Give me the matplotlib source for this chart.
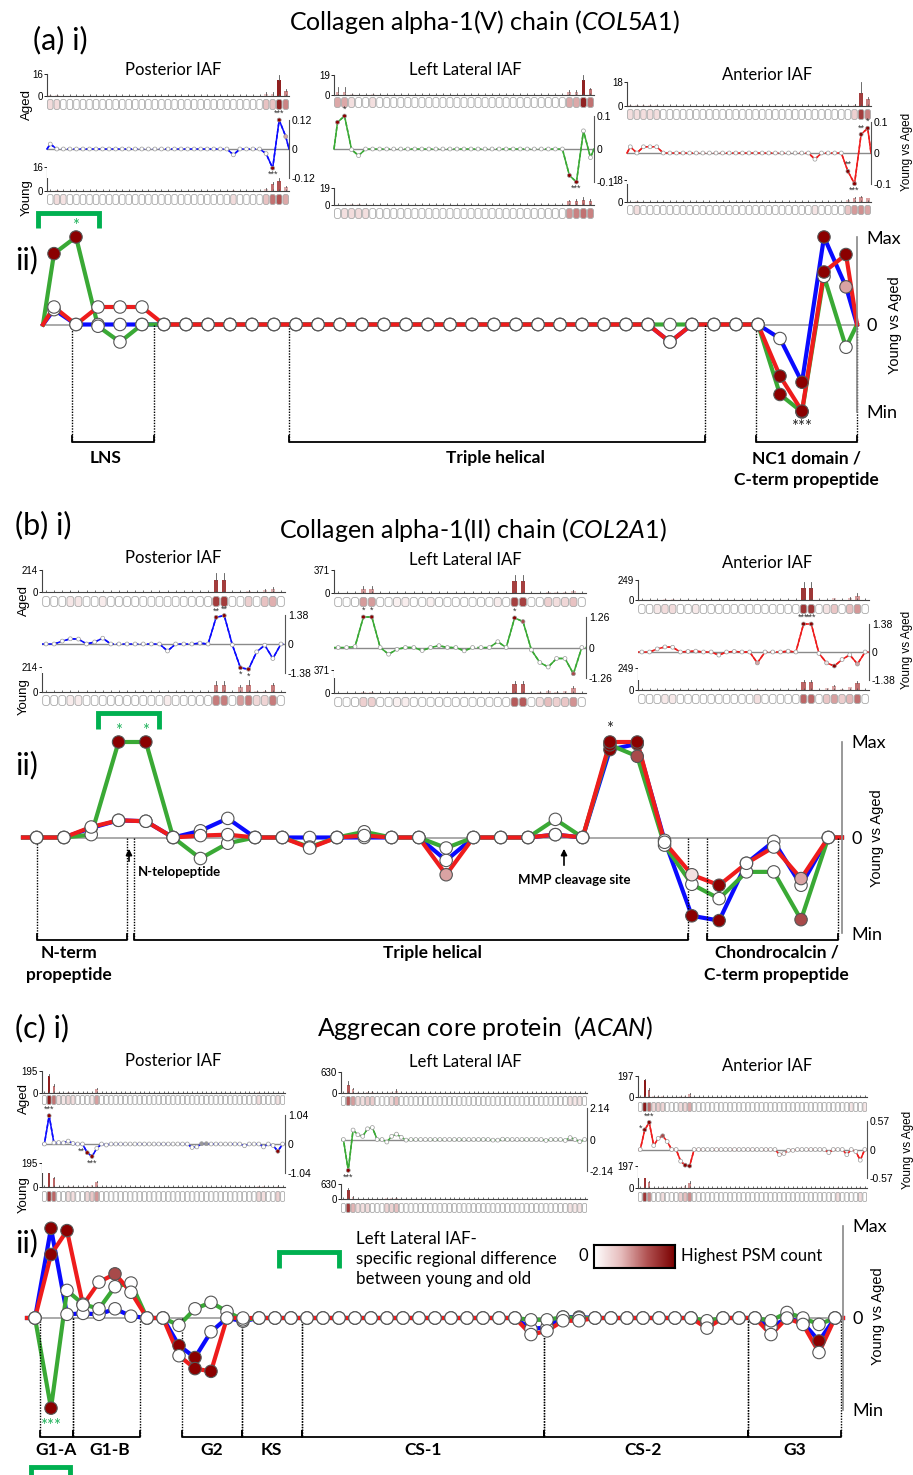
#!/usr/bin/env python3
import numpy as np
import matplotlib
matplotlib.use('Agg')
import matplotlib.pyplot as plt
import matplotlib.transforms as mtransforms
from matplotlib.colors import LinearSegmentedColormap
from matplotlib.patches import FancyBboxPatch, FancyArrowPatch
from matplotlib.lines import Line2D

# ---------------- data ----------------
regions = ['Posterior IAF', 'Left Lateral IAF', 'Anterior IAF']

# (a) COL5A1, 37 segments. normalised young-vs-aged difference (Max = 1, Min = -1)
blue_a = [0.17, 0, 0, 0, 0, 0, 0, 0, 0, 0,
          0, 0, 0, 0, 0, 0, 0, 0, 0, 0,
          0, 0, 0, 0, 0, 0, 0, 0, -0.2, 0,
          0, 0, 0, -0.16, -0.66, 1.0, 0.43]
green_a = [0.81, 1.0, -0.02, -0.2, 0, 0, 0, 0, 0, 0,
           0, 0, 0, 0, 0, 0, 0, 0, 0, 0,
           0, 0, 0, 0, 0, 0, 0, 0, 0, 0,
           0, 0, 0, -0.8, -1.0, 0.55, -0.26]
red_a = [0.2, 0, 0.2, 0.2, 0.2, 0, 0, 0, 0, 0,
         0, 0, 0, 0, 0, 0, 0, 0, 0, 0,
         0, 0, 0, 0, 0, 0, 0, 0, -0.2, 0,
         0, 0, 0, -0.59, -0.99, 0.6, 0.8]
marks_a = [{34: 'd', 35: 'd', 36: 'p'},
           {0: 'd', 1: 'd', 33: 'd', 34: 'd'},
           {33: 'd', 34: 'd', 35: 'd', 36: 'd'}]
diff_lim_a = [0.12, 0.1, 0.1]
bar_max_a = [16, 19, 18]
# {segment: (PSM count, error)}
aged_a = [{0: (0.5, 0), 1: (0.5, 0), 33: (1.5, 1.5), 34: (1.5, 1.5), 35: (12, 3.5), 36: (4, 1)},
          {0: (3, 5), 1: (3, 5), 2: (0.5, 0.5), 5: (0.5, 0.4), 33: (3, 2), 34: (3, 2), 35: (14, 5), 36: (6, 1)},
          {0: (0.5, 0.5), 1: (0.5, 0.5), 2: (0.5, 0.5), 3: (0.5, 0.5), 4: (0.5, 0.5), 34: (1, 0.5),
           35: (10, 8), 36: (5, 1.5)}]
young_a = [{1: (0.5, 0.5), 2: (0.3, 0), 28: (0.5, 0), 33: (1.5, 0.5), 34: (5, 1), 35: (7, 1.5), 36: (2.5, 0.8)},
           {1: (0.5, 0.5), 2: (0.6, 0.5), 3: (0.6, 0.5), 4: (0.5, 0.5), 33: (4, 2), 34: (5, 2), 35: (6, 3), 36: (5, 2)},
           {1: (0.5, 0.5), 28: (0.3, 0), 33: (1.5, 1), 34: (3.5, 1), 35: (4, 1), 36: (3, 0.5)}]
# side: 1 above, -1 below, 0 to the left
sig_a = [[(35, '***', 1), (34, '***', -1)],
         [(1, '*', 1), (34, '***', -1)],
         [(35, '**', 1), (36, '*', 1), (33, '**', 1), (34, '***', -1)]]
main_sig_a = [(1, 1.12, '*', 'g'), (34, -1.17, '***', 'k')]
# (label, start, end, label centre)
domains_a = [('LNS', 1.3, 5.05, 2.86), ('Triple helical', 11.2, 30.1, 20.55),
             ('NC1 domain /\nC-term propeptide', 32.4, 37, 34.7)]

# (b) COL2A1, 30 segments
blue_b = [0, 0, 0.1, 0.18, 0.17, 0, 0.07, 0.2, 0, 0,
          0, 0, 0, 0, 0, -0.24, 0, 0, 0, 0.03,
          0, 0.92, 0.98, -0.03, -0.82, -0.87, -0.27, -0.04, -0.5, 0]
green_b = [0, 0, 0.03, 1.0, 1.0, 0, -0.22, -0.06, 0, 0,
           -0.1, 0, 0.06, 0, 0, -0.11, 0, 0, 0, 0.19,
           0, 0.97, 0.85, -0.08, -0.49, -0.64, -0.36, -0.36, -0.86, 0]
red_b = [0, 0, 0.11, 0.18, 0.17, 0, 0.02, 0.03, 0, 0,
         -0.11, 0, 0.02, 0, 0, -0.39, 0, 0, 0, 0.03,
         0, 1.0, 1.0, -0.05, -0.39, -0.5, -0.27, -0.1, -0.43, 0]
marks_b = [{21: 'd', 22: 'd', 24: 'd', 25: 'd'},
           {3: 'd', 4: 'd', 21: 'd', 22: 'm', 28: 'm'},
           {15: 'p', 21: 'd', 22: 'd', 24: 'q', 25: 'd', 28: 'p'}]
diff_lim_b = [1.38, 1.26, 1.38]
bar_max_b = [214, 371, 249]
aged_b = [{3: (3, 2), 4: (3, 2), 7: (2, 0), 21: (120, 60), 22: (120, 60), 25: (12, 5), 27: (20, 10), 28: (30, 15)},
          {3: (70, 40), 4: (70, 40), 7: (2, 0), 8: (3, 0), 11: (2, 0), 19: (3, 0), 21: (200, 90), 22: (200, 90),
           25: (20, 10), 26: (10, 0), 27: (15, 8), 28: (35, 15)},
          {2: (3, 0), 3: (8, 3), 4: (8, 3), 7: (3, 0), 21: (150, 70), 22: (150, 70), 24: (5, 0), 25: (20, 10),
           27: (25, 15), 28: (50, 40)}]
young_b = [{3: (2, 0), 4: (2, 0), 15: (2, 0), 21: (60, 30), 22: (60, 30), 24: (40, 20), 25: (60, 40),
            26: (8, 0), 27: (10, 5), 28: (60, 15)},
           {3: (20, 10), 4: (20, 10), 7: (2, 0), 8: (3, 0), 21: (150, 50), 22: (150, 50), 24: (10, 0),
            25: (40, 10), 26: (20, 5), 27: (30, 8), 28: (80, 30)},
           {3: (3, 0), 4: (3, 0), 15: (6, 0), 21: (90, 20), 22: (90, 20), 24: (20, 0), 25: (45, 15),
            26: (15, 0), 27: (30, 0), 28: (80, 20)}]
sig_b = [[(21, '**', 1), (22, '**', 1), (24, '*', -1), (25, '*', -1)],
         [(3, '*', 1), (4, '*', 1), (21, '*', 1)],
         [(21, '***', 1), (22, '***', 1)]]
main_sig_b = [(3, 1.12, '*', 'g'), (4, 1.12, '*', 'g'), (21, 1.14, '*', 'k')]
domains_b = [('N-term\npropeptide', 0.51, 3.8, 1.68), ('Triple helical', 4.07, 24.36, 14.98),
             ('Chondrocalcin /\nC-term propeptide', 25.05, 29.85, 27.6)]

# (c) ACAN, 51 segments
blue_c = [0, 0.975, 0.04, 0.05, 0.04, 0.1, 0.02, 0, 0, -0.3,
          -0.43, -0.15, 0, -0.035, 0, 0, 0, 0, 0, 0,
          0, 0, 0, 0, 0, 0, 0, 0, 0, 0,
          0, -0.12, -0.1, 0.01, 0.01, 0, 0, 0, 0, 0,
          0, 0, -0.06, 0, 0, 0, -0.1, 0, -0.05, -0.25,
          0]
green_c = [0, -0.98, 0.3, 0.15, 0.1, 0.34, 0.38, 0, 0, -0.08,
           0.1, 0.17, 0.07, -0.02, 0, 0, 0, 0, 0, 0,
           0, 0, 0, 0, 0, 0, 0, 0, 0, 0,
           0, -0.02, -0.02, 0.01, 0, 0, 0, 0, 0, 0,
           0, 0, -0.03, 0, 0, 0, -0.03, 0.06, 0, -0.07,
           0]
red_c = [0, 0.69, 0.95, 0.14, 0.39, 0.48, 0.28, 0, 0, -0.41,
         -0.55, -0.58, 0, 0, 0, 0, 0, 0, 0, 0,
         0, 0, 0, 0, 0, 0, 0, 0, 0, 0,
         0, -0.18, -0.14, -0.03, -0.03, 0, 0, 0, 0, 0,
         0, 0, -0.11, 0, 0, 0, -0.18, 0, -0.07, -0.375,
         0]
marks_c = [{1: 'd', 9: 'd', 10: 'd', 33: 'g', 34: 'g', 49: 'd'},
           {1: 'd'},
           {1: 'd', 2: 'd', 5: 'm', 10: 'd', 11: 'd'}]
diff_lim_c = [1.04, 2.14, 0.57]
bar_max_c = [195, 630, 197]
aged_c = [{1: (150, 20), 2: (60, 20), 3: (5, 0), 4: (3, 0), 5: (8, 0), 6: (5, 0), 10: (3, 0), 11: (35, 10),
           45: (5, 0), 49: (4, 0)},
          {1: (250, 100), 2: (120, 40), 3: (20, 0), 4: (15, 0), 5: (40, 10), 6: (40, 10), 10: (20, 10),
           11: (70, 60), 47: (10, 0), 48: (8, 0), 49: (10, 0)},
          {1: (160, 10), 2: (70, 15), 3: (8, 0), 4: (12, 0), 5: (8, 0), 9: (5, 0), 10: (8, 0), 11: (30, 10),
           47: (3, 0), 50: (3, 0)}]
young_c = [{1: (110, 10), 2: (70, 10), 5: (5, 0), 6: (5, 0), 9: (8, 0), 10: (15, 0), 11: (40, 10),
            45: (8, 0), 46: (5, 0), 49: (10, 5)},
           {1: (380, 100), 2: (80, 30), 3: (20, 0), 4: (15, 0), 5: (20, 0), 9: (30, 0), 10: (30, 0),
            11: (60, 20), 47: (10, 0), 48: (8, 0), 49: (10, 0)},
           {1: (120, 20), 2: (50, 10), 5: (5, 0), 9: (10, 0), 10: (20, 10), 11: (45, 15), 44: (5, 0), 49: (5, 0)}]
sig_c = [[(1, '***', 1), (9, '**', 0), (10, '***', -1)],
         [(1, '***', -1)],
         [(1, '*', 0), (2, '***', 1)]]
main_sig_c = [(1, -1.17, '***', 'g')]
domains_c = [('G1-A', 0.81, 2.87, 1.84), ('G1-B', 2.87, 7.05, 5.19), ('G2', 9.68, 13.42, 11.55),
             ('KS', 13.42, 17.17, 15.3), ('CS-1', 17.17, 32.33, 24.75), ('CS-2', 32.33, 45.07, 38.5),
             ('G3', 45.07, 50.87, 48.0)]

# ---------------- style ----------------
W, H = 913, 1475
plt.rcParams['font.family'] = ['Lato', 'DejaVu Sans']
plt.rcParams['mathtext.fontset'] = 'custom'
plt.rcParams['mathtext.rm'] = 'Lato'
plt.rcParams['mathtext.it'] = 'Lato:italic'
ARIAL = ['Liberation Sans', 'DejaVu Sans']

LINE_COLS = ['#0a0aff', '#3aa935', '#ee1c1c']
BR_GREEN = '#00b050'
MARK = {'w': 'white', 'd': '#8b0000', 'm': '#a84a4a', 'p': '#d9a3a3', 'q': '#f3e2e2', 'g': '#9a9a9a'}
STAR = {'g': '#1fb25a', 'k': '#222222'}
psm_cmap = LinearSegmentedColormap.from_list('psm', ['#ffffff', '#e6bcbc', '#b05050', '#7a0000'])

fig = plt.figure(figsize=(W / 100, H / 100), dpi=100)


def rect(x0, y0, x1, y1):
    return [x0 / W, 1 - y1 / H, (x1 - x0) / W, (y1 - y0) / H]


def fy(y):
    return 1 - y / H


def ftext(x, y, s, **kw):
    fig.text(x / W, fy(y), s, **kw)


def green_bracket(x0, x1, ytop, ylegs):
    fig.add_artist(Line2D([x0 / W, x0 / W, x1 / W, x1 / W], [fy(ylegs), fy(ytop), fy(ytop), fy(ylegs)],
                          color=BR_GREEN, lw=3.5, solid_joinstyle='miter', solid_capstyle='butt'))


def draw_bars(x0, x1, ytop, yzero, ybt, ybb, n, counts, vmax):
    ax = fig.add_axes(rect(x0, ytop, x1, yzero))
    ax.set_xlim(0, n)
    ax.set_ylim(0, vmax)
    for k, (c, e) in counts.items():
        ax.bar(k + 0.5, c, width=0.55, color=psm_cmap(np.sqrt(c / vmax)), lw=0)
        if e:
            ax.plot([k + 0.5, k + 0.5], [c, c + e], color='#555555', lw=0.6)
    for s in ['top', 'right']:
        ax.spines[s].set_visible(False)
    for s in ['left', 'bottom']:
        ax.spines[s].set_color('#444444')
        ax.spines[s].set_linewidth(0.8)
    ax.set_xticks(np.arange(n) + 0.5)
    ax.tick_params(axis='x', direction='in', length=1.5, width=0.6, color='#555555', labelbottom=False)
    ax.set_yticks([0, vmax])
    ax.set_yticklabels(['0', str(vmax)], family=ARIAL)
    ax.tick_params(axis='y', length=2, width=0.6, labelsize=7, pad=1)

    bx = fig.add_axes(rect(x0, ybt, x1, ybb))
    bx.set_xlim(0, n)
    bx.set_ylim(0, 1)
    bx.axis('off')
    asp = ((x1 - x0) / n) / (ybb - ybt)
    for k in range(n):
        c = counts.get(k, (0, 0))[0]
        bx.add_patch(FancyBboxPatch((k + 0.08, 0.05), 0.84, 0.9, boxstyle='round,pad=0,rounding_size=0.3',
                                    mutation_aspect=asp, fc=psm_cmap(np.sqrt(c / vmax)),
                                    ec='#aaaaaa', lw=0.6))


def draw_diff(x0, x1, yt, yb, n, vals, mk, color, lim, sig):
    ax = fig.add_axes(rect(x0, yt, x1, yb))
    ax.set_xlim(0, n)
    ax.set_ylim(-lim, lim)
    ax.axhline(0, color='#8a8a8a', lw=1.0, zorder=1)
    xs = np.r_[0, np.arange(n) + 0.5, n]
    ys = np.r_[0, vals, 0] * lim
    nz = ys != 0
    keep = nz | np.r_[nz[1:], False] | np.r_[False, nz[:-1]]
    ax.plot(xs, ys, color=color, lw=1.1, ls=(0, (2.5, 1.5)), zorder=2, clip_on=False)
    ax.plot(xs, np.where(keep, ys, np.nan), color=color, lw=1.1, zorder=2, clip_on=False)
    fc = [MARK[mk.get(k, 'w')] for k in range(n)]
    ax.scatter(np.arange(n) + 0.5, np.array(vals) * lim, s=8, c=fc, edgecolors='#9a9a9a',
               linewidths=0.5, zorder=3, clip_on=False)
    for k, s, side in sig:
        if side == 0:
            off, ha, va = (-2, 1), 'right', 'center'
        else:
            off, ha, va = (0, 1.5 * side), 'center', ('bottom' if side > 0 else 'top')
        ax.annotate(s, (k + 0.5, vals[k] * lim), xytext=off, textcoords='offset points',
                    ha=ha, va=va, fontsize=6.5, color='#333333', family=ARIAL)
    for s in ['top', 'left', 'bottom']:
        ax.spines[s].set_visible(False)
    ax.spines['right'].set_color('#555555')
    ax.spines['right'].set_linewidth(0.8)
    ax.set_xticks([])
    ax.yaxis.tick_right()
    ax.set_yticks([-lim, 0, lim])
    ax.set_yticklabels(['-%g' % lim, '0', '%g' % lim], family=ARIAL)
    ax.tick_params(axis='y', length=0, pad=2, labelsize=7.5)


def draw_main(box, n, series, marks, stars, domains, zero_y, bracket_y, label_top):
    x0, y0, x1, y1 = box
    ax = fig.add_axes(rect(x0, y0, x1, y1))
    ax.set_xlim(0, n)
    ax.set_ylim(-1, 1)
    ax.axhline(0, color='#aaaaaa', lw=1.4, zorder=1)
    xs = np.r_[0, np.arange(n) + 0.5, n]
    for vals, col in zip(series, LINE_COLS):
        ax.plot(xs, np.r_[0, vals, 0], color=col, lw=3, zorder=2, clip_on=False)
    for vals, mk in zip(series, marks):
        fc = [MARK[mk.get(k, 'w')] for k in range(n)]
        ax.scatter(np.arange(n) + 0.5, vals, s=80, c=fc, edgecolors='#555555', linewidths=0.8, zorder=3,
                   clip_on=False)
    for k, yv, s, c in stars:
        ax.text(k + 0.5, yv, s, ha='center', va='center', fontsize=12, color=STAR[c], clip_on=False)
    for s in ['top', 'left', 'bottom']:
        ax.spines[s].set_visible(False)
    ax.spines['right'].set_color('#888888')
    ax.spines['right'].set_linewidth(1.2)
    ax.set_xticks([])
    ax.yaxis.tick_right()
    ax.set_yticks([-1, 0, 1])
    ax.set_yticklabels(['Min', '0', 'Max'])
    ax.tick_params(axis='y', length=0, pad=7, labelsize=13)

    tr = mtransforms.blended_transform_factory(ax.transData, fig.transFigure)
    for name, a, b, lx in domains:
        for xv in (a, b):
            ax.add_line(Line2D([xv, xv], [fy(zero_y), fy(bracket_y)], transform=tr, ls=(0, (1, 1)),
                               color='black', lw=1, clip_on=False))
        ax.add_line(Line2D([a, a, b, b], [fy(bracket_y - 6), fy(bracket_y), fy(bracket_y), fy(bracket_y - 6)],
                           transform=tr, color='black', lw=1.3, clip_on=False))
        ax.text(lx, fy(label_top), name, transform=tr, ha='center', va='top', fontsize=12.5,
                fontweight='bold', linespacing=1.45, clip_on=False)
    return ax


proteins = [
    dict(n=37, series=[blue_a, green_a, red_a], marks=marks_a, lims=diff_lim_a, bmax=bar_max_a,
         aged=aged_a, young=young_a, sig=sig_a, stars=main_sig_a, domains=domains_a,
         geo=[(47, 289, 74, 96, 99, 110, 120, 178, 167, 191, 194, 205),
              (334, 594, 75, 95, 97, 108, 116, 182, 188, 205, 208, 219),
              (627, 871, 82, 106, 109, 120, 122, 184, 180, 202, 205, 215)],
         rtitle_y=[70, 70, 75], aged_lbl=(27, 105), young_lbl=(27, 198), yva=(907, 152),
         main=(43, 237, 857, 412), zero=325, brk=442, lbl=450,
         head=(33, 40, '(a) i)'), iilbl=260,
         title=(484, 22, 'Collagen alpha-1(V) chain ($\\mathit{COL5A1}$)'), yva_main=(895, 325)),
    dict(n=30, series=[blue_b, green_b, red_b], marks=marks_b, lims=diff_lim_b, bmax=bar_max_b,
         aged=aged_b, young=young_b, sig=sig_b, stars=main_sig_b, domains=domains_b,
         geo=[(42, 285, 570, 592, 596, 607, 615, 673, 667, 692, 695, 706),
              (334, 586, 570, 593, 597, 607, 617, 678, 670, 693, 697, 707),
              (638, 869, 580, 600, 604, 614, 624, 680, 668, 690, 694, 704)],
         rtitle_y=[558, 560, 563], aged_lbl=(24, 600), young_lbl=(24, 697), yva=(907, 650),
         main=(23, 742, 842, 933), zero=838, brk=940, lbl=945,
         head=(15, 525, '(b) i)'), iilbl=765,
         title=(473, 530, 'Collagen alpha-1(II) chain ($\\mathit{COL2A1}$)'), yva_main=(877, 838)),
    dict(n=51, series=[blue_c, green_c, red_c], marks=marks_c, lims=diff_lim_c, bmax=bar_max_c,
         aged=aged_c, young=young_c, sig=sig_c, stars=main_sig_c, domains=domains_c,
         geo=[(42, 285, 1071, 1093, 1095, 1105, 1115, 1173, 1163, 1187, 1191, 1202),
              (341, 587, 1072, 1093, 1096, 1106, 1108, 1171, 1184, 1199, 1203, 1213),
              (638, 867, 1076, 1097, 1102, 1112, 1121, 1178, 1166, 1188, 1192, 1202)],
         rtitle_y=[1061, 1062, 1066], aged_lbl=(24, 1098), young_lbl=(24, 1195), yva=(908, 1150),
         main=(27, 1226, 843, 1410), zero=1318, brk=1437, lbl=1442,
         head=(15, 1028, '(c) i)'), iilbl=1243,
         title=(485, 1028, 'Aggrecan core protein  ($\\mathit{ACAN}$)'), yva_main=(878, 1316)),
]

rtitle_x = [173, 465, 767]

for p in proteins:
    n = p['n']
    for r in range(3):
        x0, x1, at, az, abt, abb, dt, db, yt, yz, ybt, ybb = p['geo'][r]
        draw_bars(x0, x1, at, az, abt, abb, n, p['aged'][r], p['bmax'][r])
        draw_bars(x0, x1, yt, yz, ybt, ybb, n, p['young'][r], p['bmax'][r])
        draw_diff(x0, x1, dt, db, n, p['series'][r], p['marks'][r], LINE_COLS[r], p['lims'][r], p['sig'][r])
        ftext(rtitle_x[r], p['rtitle_y'][r], regions[r], ha='center', va='center', fontsize=12)
    ftext(*p['aged_lbl'], 'Aged', rotation=90, ha='center', va='center', fontsize=9.5, family=ARIAL)
    ftext(*p['young_lbl'], 'Young', rotation=90, ha='center', va='center', fontsize=9.5, family=ARIAL)
    ftext(*p['yva'], 'Young vs Aged', rotation=90, ha='center', va='center', fontsize=8.5, family=ARIAL)

    draw_main(p['main'], n, p['series'], p['marks'], p['stars'], p['domains'], p['zero'], p['brk'], p['lbl'])
    ftext(*p['yva_main'], 'Young vs Aged', rotation=90, ha='center', va='center', fontsize=10.5, family=ARIAL)

    hx, hy, hs = p['head']
    ftext(hx, hy, hs, ha='left', va='center', fontsize=22)
    ftext(15, p['iilbl'], 'ii)', ha='left', va='center', fontsize=22)
    tx, ty, ts = p['title']
    ftext(tx, ty, ts, ha='center', va='center', fontsize=18)

# significance brackets (green)
green_bracket(38, 99, 213, 228)
green_bracket(98, 159, 713, 729)
green_bracket(31, 70, 1467, 1482)

# (b) site annotations
for xa, ytail, yhead in [(129, 864, 846), (564, 868, 846)]:
    fig.add_artist(FancyArrowPatch((xa / W, fy(ytail)), (xa / W, fy(yhead)), transform=fig.transFigure,
                                   arrowstyle='-|>', mutation_scale=9, color='black', lw=1.2))
ftext(138, 872, 'N-telopeptide', ha='left', va='center', fontsize=9.5, fontweight='bold')
ftext(574, 880, 'MMP cleavage site', ha='center', va='center', fontsize=9.5, fontweight='bold')

# legend in (c)
green_bracket(279, 339, 1252, 1268)
ftext(356, 1231, 'Left Lateral IAF-\nspecific regional difference\nbetween young and old',
      ha='left', va='top', fontsize=12.2, linespacing=1.3)
cax = fig.add_axes(rect(594, 1245, 675, 1268))
cax.imshow(np.linspace(0, 1, 200)[None, :], cmap=psm_cmap, aspect='auto')
cax.set_xticks([])
cax.set_yticks([])
for s in cax.spines.values():
    s.set_linewidth(1.5)
ftext(583, 1256, '0', ha='center', va='center', fontsize=12)
ftext(681, 1256, 'Highest PSM count', ha='left', va='center', fontsize=12)

fig.savefig('out.png', dpi=100)
